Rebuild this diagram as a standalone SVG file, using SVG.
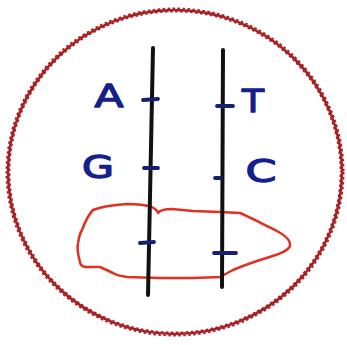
<svg xmlns="http://www.w3.org/2000/svg" width="347" height="345" viewBox="0 0 347 345">
<style>
.strand{stroke:#111;stroke-width:4;stroke-linecap:round;fill:none}
.tick{stroke:#16206e;stroke-width:3.8;stroke-linecap:round;fill:none}
.lbl{font-family:"DejaVu Sans","Liberation Sans",sans-serif;font-size:32px;fill:#16208a;stroke:#16208a;stroke-width:1.3;stroke-linejoin:round;text-anchor:middle}
.rim{fill:none;stroke:#a82024}
</style>
<rect width="347" height="345" fill="#ffffff"/>
<g id="border">
<ellipse class="rim" cx="175" cy="172" rx="167" ry="162" stroke-width="2.6"/>
<ellipse class="rim" cx="175" cy="172" rx="168.6" ry="163.6" stroke-width="1.8" stroke-dasharray="2.5 2.5"/>
<ellipse class="rim" cx="175" cy="172" rx="165.4" ry="160.4" stroke-width="1.6" stroke-dasharray="2.5 2.5" stroke-dashoffset="2.5"/>
</g>
<g id="highlight">
<path d="M93,210 C103,206 113,205 127,204 C138,204 146,205 152,207 C156,209 158,212 158,213 C160,210 165,209 172,209 L193,211 L220,212 L240,213 C250,217 262,224 275,230 C285,235 291,240 290,246 C288,251 280,254 260,260 C248,264 240,267 233,270 L220,277 L193,278 L160,278 L127,277 C120,276 116,275 113,273 L100,267 L85,267 C81,266 80,264 80,262 C78,255 77,248 78,243 C79,237 80,233 82,230 C85,222 88,215 93,210 Z" fill="none" stroke="#e0301f" stroke-width="2.5" stroke-linejoin="round"/>
</g>
<g id="connectors">
<line class="strand" x1="153" y1="48" x2="148" y2="295"/>
<line class="strand" x1="223" y1="50" x2="222" y2="287"/>
<line class="tick" x1="143" y1="100" x2="158" y2="99"/>
<line class="tick" x1="144" y1="168" x2="158" y2="168"/>
<line class="tick" x1="140" y1="243" x2="154" y2="242"/>
<line class="tick" x1="217" y1="106" x2="233" y2="106"/>
<line class="tick" x1="215" y1="178" x2="221" y2="178"/>
<line class="tick" x1="214" y1="253" x2="236" y2="253"/>
</g>
<g id="node-A"><text class="lbl" x="109" y="107" textLength="29" lengthAdjust="spacingAndGlyphs">A</text></g>
<g id="node-G"><text class="lbl" x="98" y="178" textLength="32" lengthAdjust="spacingAndGlyphs">G</text></g>
<g id="node-T"><text class="lbl" x="253" y="112" textLength="22" lengthAdjust="spacingAndGlyphs">T</text></g>
<g id="node-C"><text class="lbl" x="261" y="182" textLength="31" lengthAdjust="spacingAndGlyphs">C</text></g>
</svg>
